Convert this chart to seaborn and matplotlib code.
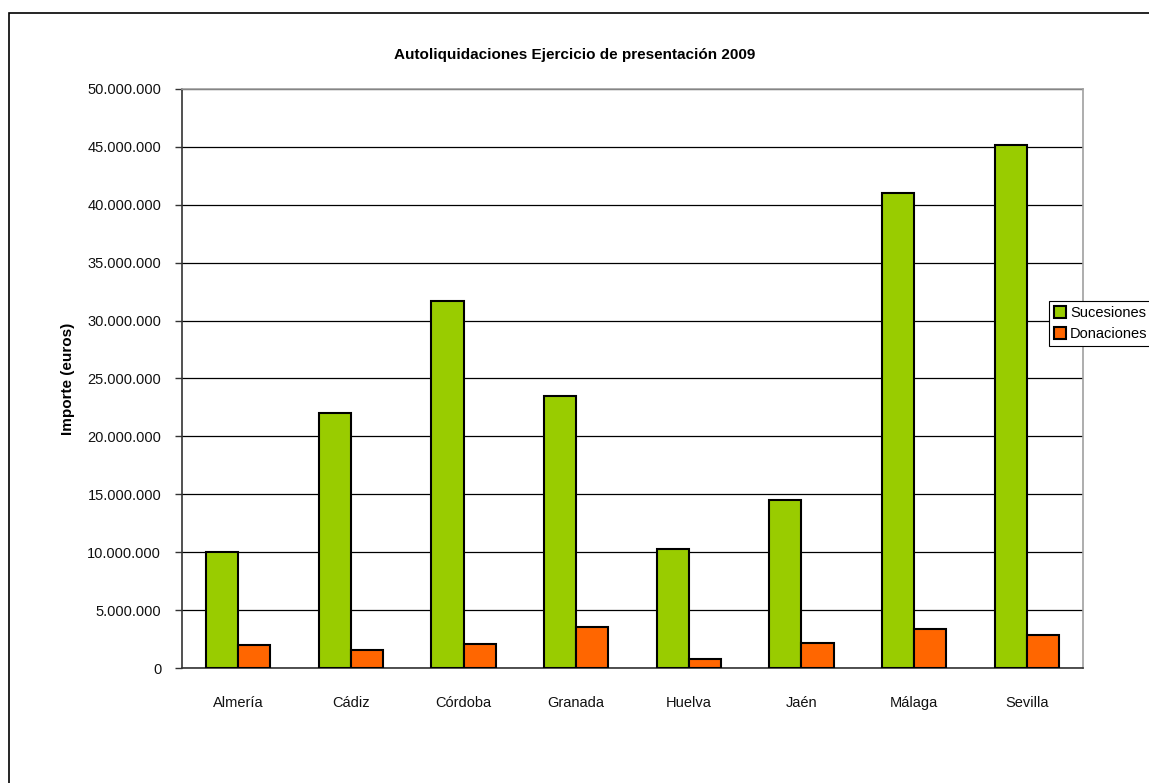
import numpy as np
import pandas as pd
import matplotlib.pyplot as plt
import matplotlib.ticker as mticker
from matplotlib.patches import Rectangle
import seaborn as sns

provincias = ['Almería', 'Cádiz', 'Córdoba', 'Granada', 'Huelva', 'Jaén', 'Málaga', 'Sevilla']
sucesiones = [10.0e6, 22.0e6, 31.7e6, 23.45e6, 10.3e6, 14.5e6, 41.0e6, 45.2e6]
donaciones = [2.0e6, 1.55e6, 2.05e6, 3.55e6, 0.75e6, 2.15e6, 3.4e6, 2.85e6]
series = ['Sucesiones', 'Donaciones']
colores = ['#99CC00', '#FF6600']
y_ticks = np.arange(0, 50e6 + 1, 5e6)

df = pd.DataFrame({
    'provincia': provincias * 2,
    'importe': sucesiones + donaciones,
    'tipo': [series[0]] * len(provincias) + [series[1]] * len(provincias),
})

sns.set_style('white')
plt.rcParams['font.family'] = ['Liberation Sans', 'DejaVu Sans']
plt.rcParams['text.color'] = 'black'

W, H = 1149, 783
fig = plt.figure(figsize=(W / 100, H / 100), dpi=100)
ax = fig.add_axes([182 / W, 1 - 668 / H, (1083 - 182) / W, (668 - 89) / H])

sns.barplot(data=df, x='provincia', y='importe', hue='tipo', palette=colores,
            saturation=1, width=0.57, gap=0, edgecolor='black', linewidth=1.5,
            errorbar=None, ax=ax, zorder=3)

ax.set_xlim(-0.5, len(provincias) - 0.5)
ax.set_ylim(0, 50e6)
ax.set_yticks(y_ticks)
ax.yaxis.set_major_formatter(mticker.FuncFormatter(lambda v, p: f'{int(v):,}'.replace(',', '.')))
ax.yaxis.grid(True, color='black', linewidth=0.9, zorder=0)
ax.set_axisbelow(True)
ax.set_xlabel('')
ax.set_ylabel('')

ax.set_xticks(np.arange(len(provincias)))
ax.set_xticks(np.arange(-0.5, len(provincias)), minor=True)
ax.tick_params(axis='x', which='major', length=0, pad=20, labelsize=10.5, labelcolor='#111111')
ax.tick_params(axis='x', which='minor', length=6, width=1, color='#333333', direction='out')
ax.tick_params(axis='y', length=5, width=1, color='#333333', direction='out', pad=10,
               labelsize=10.5, labelcolor='#111111')
ax.tick_params(bottom=True, left=True)

for s in ['left', 'bottom']:
    ax.spines[s].set_color('#333333')
    ax.spines[s].set_linewidth(1.2)
for s in ['top', 'right']:
    ax.spines[s].set_color('#a0a0a0')
    ax.spines[s].set_linewidth(1.2)

handles, labels = ax.get_legend_handles_labels()
ax.get_legend().remove()
leg = fig.legend(handles, labels, loc='upper left', bbox_to_anchor=(1049 / W, 1 - 301 / H),
                 fontsize=10.5, frameon=True, fancybox=False, framealpha=1,
                 handlelength=0.8, handleheight=0.9, handletextpad=0.3,
                 borderpad=0.35, labelspacing=0.45, borderaxespad=0)
leg.get_frame().set_edgecolor('black')
leg.get_frame().set_linewidth(0.8)

fig.text(0.5, 1 - 55 / H, 'Autoliquidaciones Ejercicio de presentación 2009',
         ha='center', va='center', fontsize=11, fontweight='heavy', color='black')
fig.text(68 / W, 1 - 379 / H, 'Importe (euros)', rotation=90, ha='center', va='center',
         fontsize=11, fontweight='heavy', color='black')

fig.patches.append(Rectangle((9 / W, -0.1), 1.2, 1 - 13 / H + 0.1, transform=fig.transFigure,
                             fill=False, edgecolor='black', linewidth=1.2))

fig.savefig('out.png', dpi=100)
